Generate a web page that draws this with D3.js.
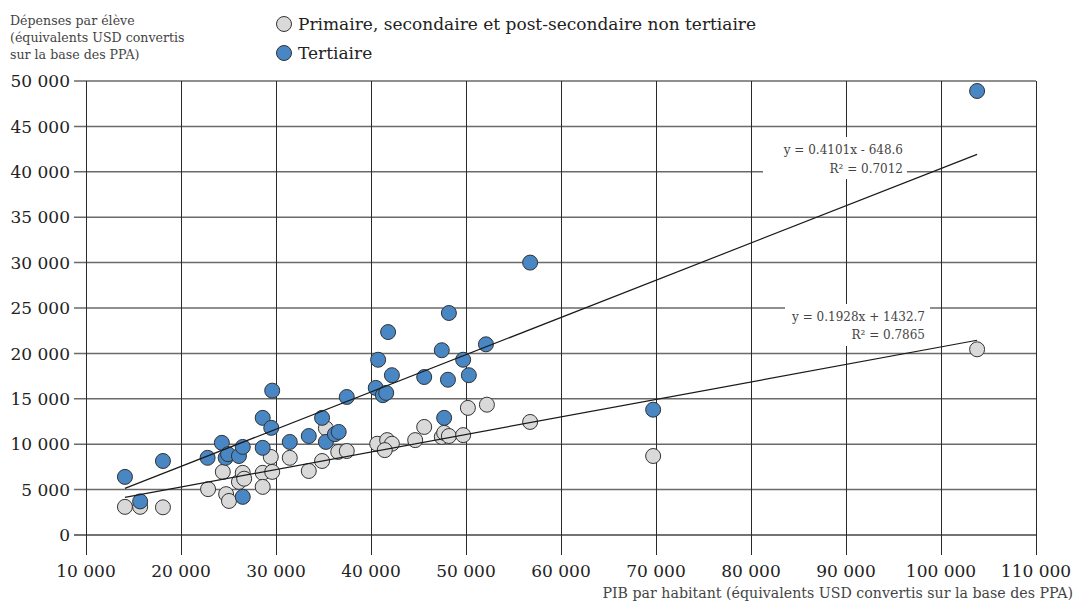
<!DOCTYPE html>
<html><head><meta charset="utf-8">
<script src="https://cdn.jsdelivr.net/npm/d3@7"></script>
<style>body{margin:0;background:#fff}svg{display:block}</style>
</head><body>
<svg id="c" width="1075" height="604"></svg>
<script>
// GDP per capita (x) and spending per student (y)
const tertiaryX = [14100,15700,18100,22800,24300,24700,24950,26100,26500,26500,28600,28600,29500,29600,31450,33450,34850,35250,36200,36600,37450,40500,40750,41250,41600,41800,42200,45600,47450,47700,48200,48100,49700,50300,52100,56750,69700,103800];
const tertiaryY = [6400,3700,8150,8500,10150,8500,8900,8700,9700,4200,9600,12900,11800,15900,10250,10900,12900,10250,11100,11350,15200,16200,19300,15400,15650,22350,17600,17400,20350,12900,24450,17100,19300,17600,21000,30000,13800,48900];
const primaryX = [14100,15700,18100,22850,24400,24750,25050,26100,26500,26650,28600,28600,29450,29600,31450,33450,34850,35250,36550,37450,40650,41700,42200,41450,44650,45600,47450,47700,48200,49700,50200,52200,56750,69700,103800];
const primaryY = [3100,3100,3050,5050,6950,4500,3750,5850,6850,6200,6850,5300,8600,6950,8500,7050,8150,11750,9150,9250,10050,10450,10050,9350,10450,11900,10800,11250,10900,11000,14000,14350,12450,8700,20450];
const seriesNames = ["Primaire, secondaire et post-secondaire non tertiaire","Tertiaire"];
const trendSlope = [0.1928, 0.4101];
const trendIntercept = [1432.7, -648.6];
const trendEq = ["y = 0.1928x + 1432.7","y = 0.4101x - 648.6"];
const trendR2 = ["R² = 0.7865","R² = 0.7012"];
const xTicks = [10000,20000,30000,40000,50000,60000,70000,80000,90000,100000,110000];
const yTicks = [0,5000,10000,15000,20000,25000,30000,35000,40000,45000,50000];
const yTitle = ["Dépenses par élève","(équivalents USD convertis","sur la base des PPA)"];
const xTitle = "PIB par habitant (équivalents USD convertis sur la base des PPA)";

const FONT = "'DejaVu Serif', serif";
const svg = d3.select("#c");
const x = d3.scaleLinear().domain([10000,110000]).range([86,1036]);
const y = d3.scaleLinear().domain([0,50000]).range([535,81]);
const loc = d3.formatLocale({decimal:".",thousands:"\u00a0",grouping:[3],currency:["",""]});
const fmt = loc.format(",");
const fills = ["#d9d9d9","#4886c4"];

// grid
const g = svg.append("g");
g.selectAll(".hy").data(yTicks).join("line")
  .attr("x1",74).attr("x2",1036).attr("y1",d=>y(d)).attr("y2",d=>y(d))
  .attr("stroke",d=>d===0?"#444":"#6a6a6a").attr("stroke-width",1.5);
g.selectAll(".vx").data(xTicks).join("line")
  .attr("x1",d=>Math.round(x(d))+0.5).attr("x2",d=>Math.round(x(d))+0.5).attr("y1",81).attr("y2",555)
  .attr("stroke","#2a2a2a").attr("stroke-width",1);

// axes labels
svg.append("g").selectAll("text").data(yTicks).join("text")
  .attr("x",70).attr("y",d=>y(d)).attr("dy","0.36em").attr("text-anchor","end")
  .attr("font-family",FONT).attr("font-size",17).attr("fill","#222").text(d=>fmt(d));
svg.append("g").selectAll("text").data(xTicks).join("text")
  .attr("x",d=>x(d)).attr("y",577).attr("text-anchor","middle")
  .attr("font-family",FONT).attr("font-size",17).attr("fill","#222").text(d=>fmt(d));

// points
const series = [ {xs:primaryX, ys:primaryY}, {xs:tertiaryX, ys:tertiaryY} ];
series.forEach((s,i)=>{
  svg.append("g").selectAll("circle").data(s.xs.map((v,j)=>[v,s.ys[j]])).join("circle")
    .attr("cx",d=>x(d[0])).attr("cy",d=>y(d[1])).attr("r",7.5)
    .attr("fill",fills[i]).attr("stroke","#333").attr("stroke-width",1);
});

// trend lines
series.forEach((s,i)=>{
  const x0 = d3.min(s.xs), x1 = d3.max(s.xs);
  svg.append("line")
    .attr("x1",x(x0)).attr("y1",y(trendSlope[i]*x0+trendIntercept[i]))
    .attr("x2",x(x1)).attr("y2",y(trendSlope[i]*x1+trendIntercept[i]))
    .attr("stroke","#1a1a1a").attr("stroke-width",1.2);
});

// trend labels
const boxes = [{x:785,y:304,w:145,h:42,tx:925,ty1:321,ty2:339},{x:763,y:137,w:144,h:42,tx:903,ty1:154,ty2:173}];
boxes.forEach((b,i)=>{
  svg.append("rect").attr("x",b.x).attr("y",b.y).attr("width",b.w).attr("height",b.h).attr("fill","#fff");
  svg.append("text").attr("x",b.tx).attr("y",b.ty1).attr("text-anchor","end")
    .attr("font-family",FONT).attr("font-size",12).attr("fill","#444").text(trendEq[i]);
  svg.append("text").attr("x",b.tx).attr("y",b.ty2).attr("text-anchor","end")
    .attr("font-family",FONT).attr("font-size",12).attr("fill","#444").text(trendR2[i]);
});

// y title
svg.append("g").selectAll("text").data(yTitle).join("text")
  .attr("x",10).attr("y",(d,i)=>25+i*17)
  .attr("font-family",FONT).attr("font-size",12.6).attr("fill","#444").text(d=>d);
// x title
svg.append("text").attr("x",1073).attr("y",598).attr("text-anchor","end")
  .attr("font-family",FONT).attr("font-size",14.2).attr("fill","#444").text(xTitle);

// legend
seriesNames.forEach((n,i)=>{
  const cy = 24 + i*29;
  svg.append("circle").attr("cx",284).attr("cy",cy).attr("r",7.5)
    .attr("fill",fills[i]).attr("stroke","#333").attr("stroke-width",1);
  svg.append("text").attr("x",298).attr("y",cy).attr("dy","0.35em")
    .attr("font-family",FONT).attr("font-size",17).attr("fill","#222").text(n);
});
</script>
</body></html>
